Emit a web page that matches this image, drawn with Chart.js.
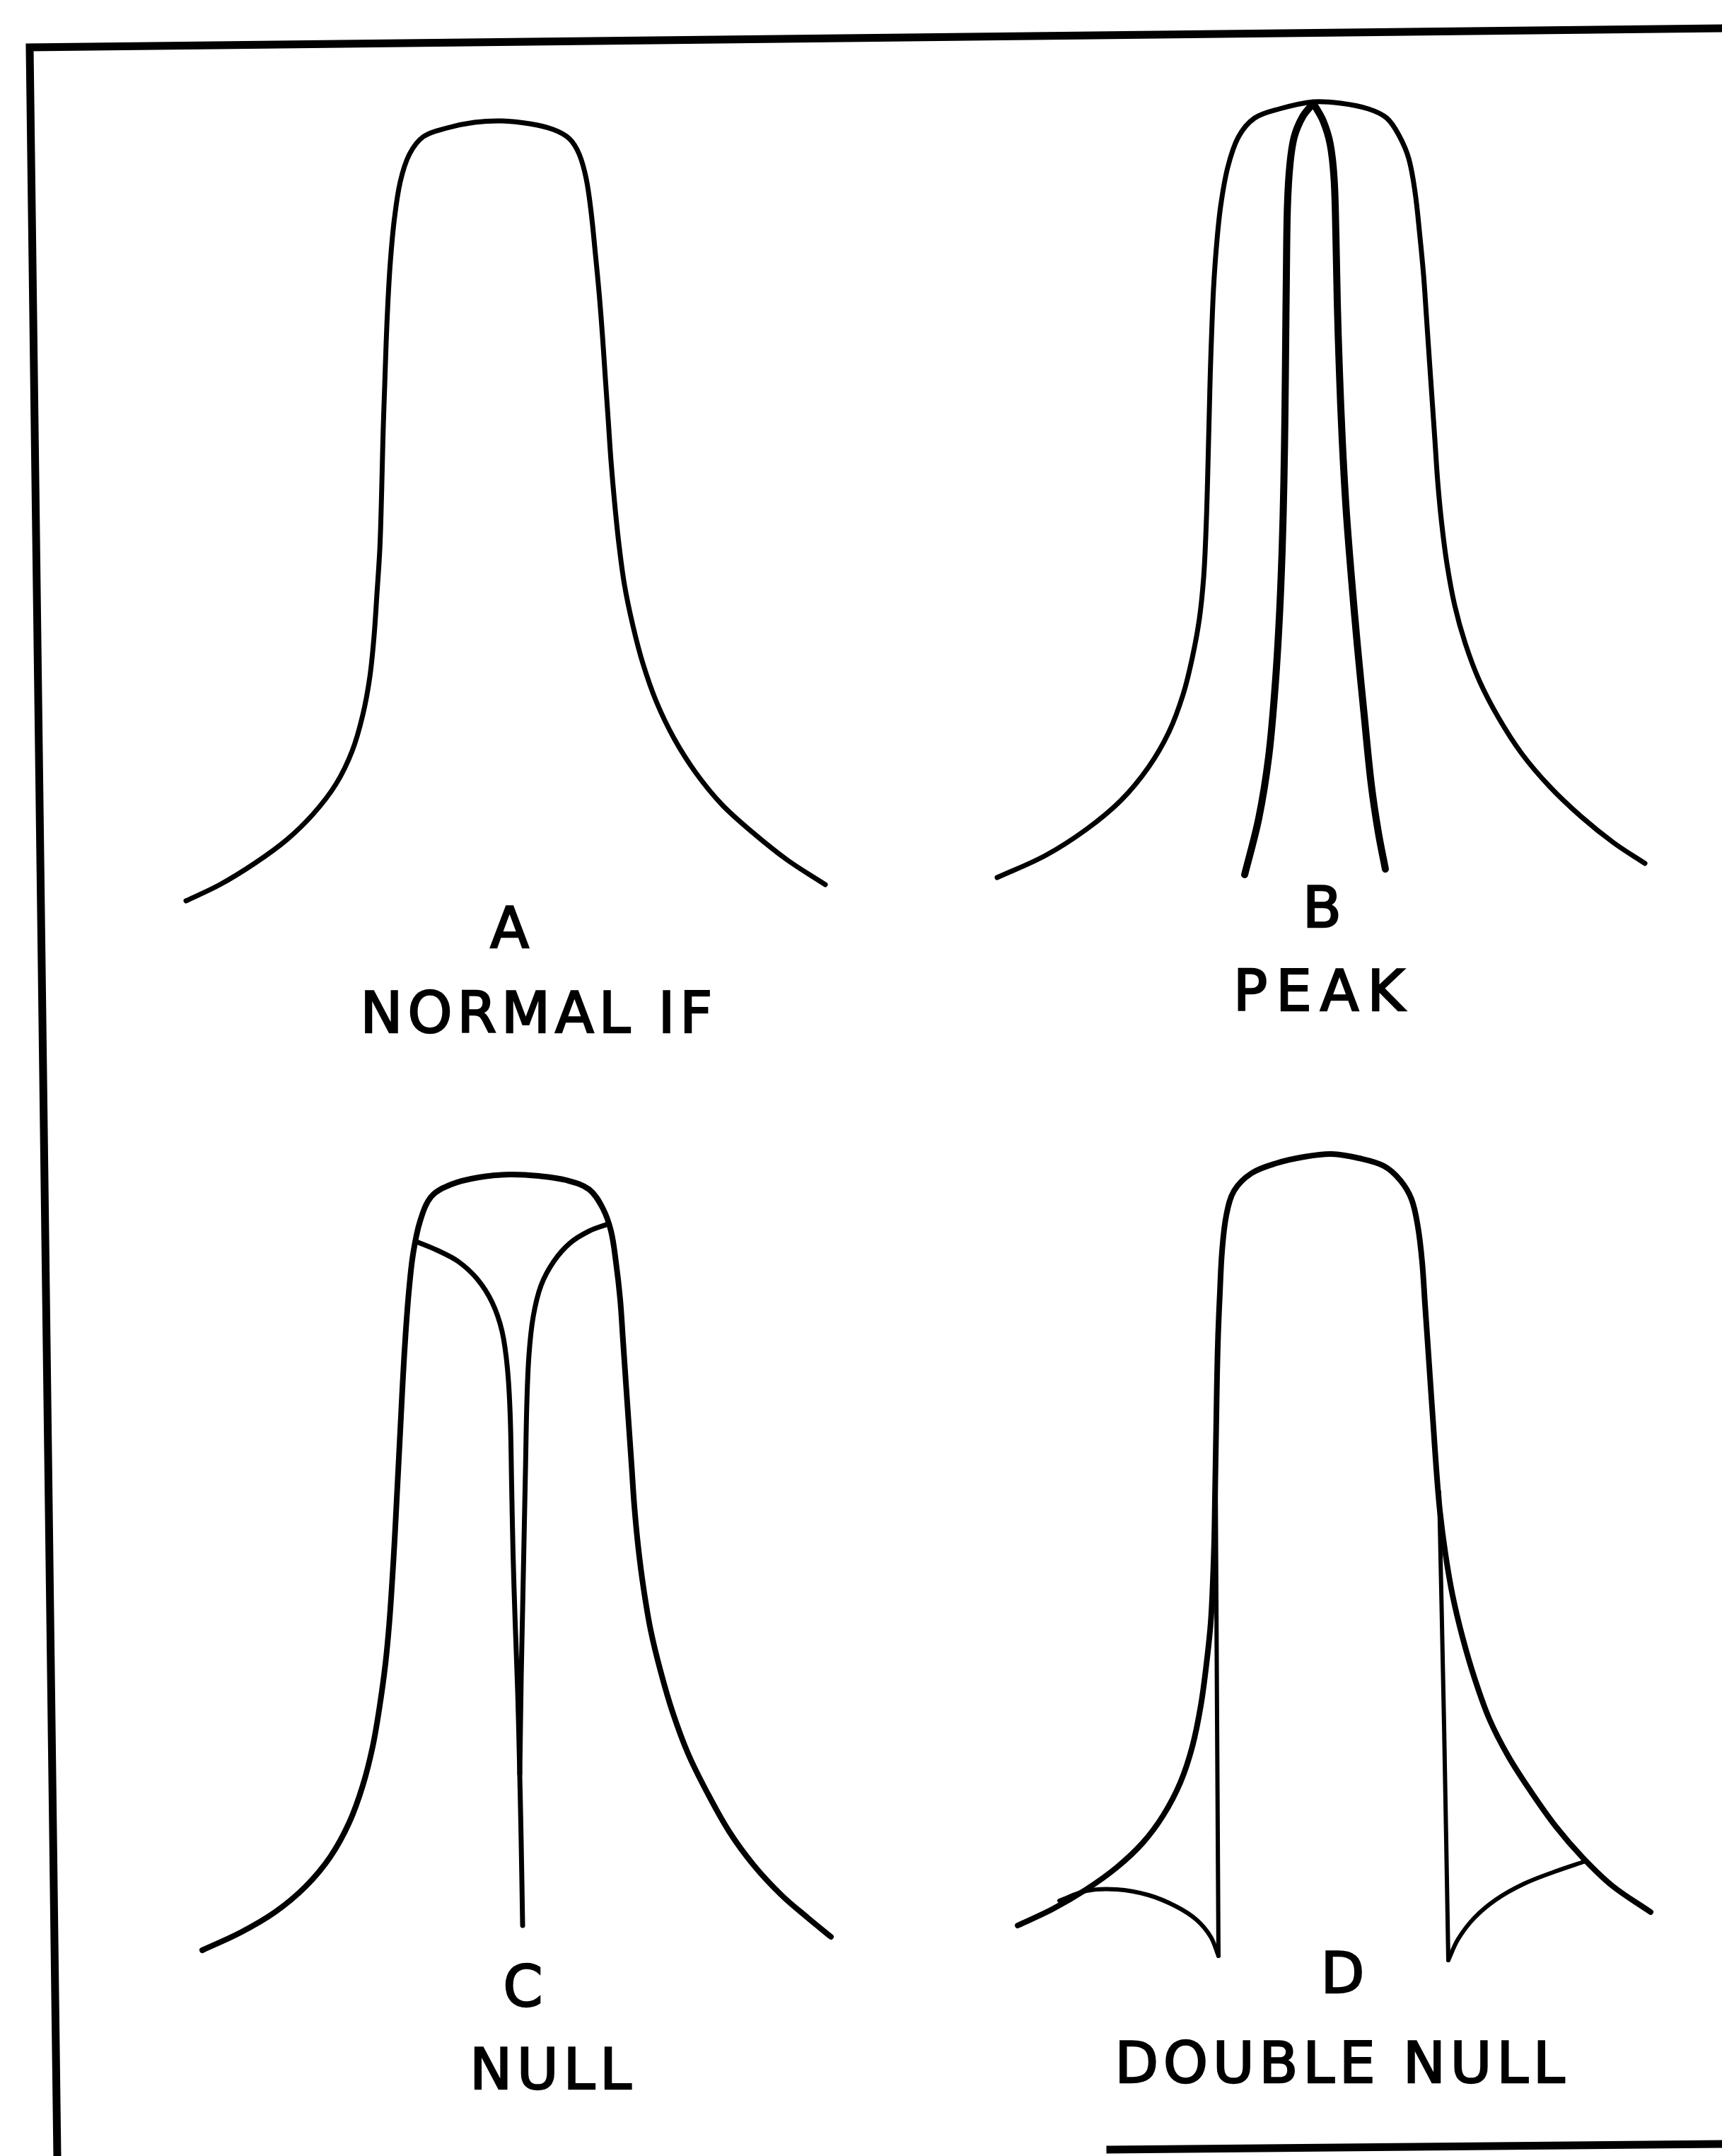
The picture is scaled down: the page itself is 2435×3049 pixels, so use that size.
<!DOCTYPE html>
<html>
<head>
<meta charset="utf-8">
<script src="https://cdn.jsdelivr.net/npm/chart.js@4.4.1/dist/chart.umd.min.js"></script>
<style>
  html, body { margin: 0; padding: 0; background: #fff; }
  body { position: relative; width: 2435px; height: 3049px; overflow: hidden; }
  canvas.panel, #frame { position: absolute; }
  .lbl {
    position: absolute;
    transform: translate(-50%, -50%);
    font-family: "DejaVu Sans", sans-serif;
    font-size: 80px;
    letter-spacing: 7px;
    -webkit-text-stroke: 2.5px #000;
    color: #000;
    white-space: nowrap;
    line-height: 1;
  }
</style>
</head>
<body>
<canvas id="frame" width="2435" height="3049" style="left:0;top:0"></canvas>
<canvas id="panelA" class="panel"></canvas>
<canvas id="panelB" class="panel"></canvas>
<canvas id="panelC" class="panel"></canvas>
<canvas id="panelD" class="panel"></canvas>

<div class="lbl" style="left:724px;top:1313px">A</div>
<div class="lbl" style="left:762px;top:1433px">NORMAL IF</div>
<div class="lbl" style="left:1873px;top:1284px">B</div>
<div class="lbl" style="left:1871px;top:1402px;letter-spacing:12px">PEAK</div>
<div class="lbl" style="left:743px;top:2810px">C</div>
<div class="lbl" style="left:782px;top:2927px">NULL</div>
<div class="lbl" style="left:1902px;top:2791px">D</div>
<div class="lbl" style="left:1898px;top:2918px">DOUBLE NULL</div>

<script>
// frequency offset (arbitrary units) and relative response

// A - normal IF
const normalX = [-43.7, -38.9, -34.0, -29.5, -25.7, -22.5, -20.2, -18.7, -17.7, -17.1, -16.7, -16.3, -16.1, -15.95, -15.8, -15.6, -15.4, -15.15, -14.8, -14.25, -13.4, -12.1, -10.1, -6.8, -2.9, 1.0, 4.9, 8.2, 10.5, 11.9, 12.9, 13.6, 14.2, 14.75, 15.2, 15.6, 16.0, 16.4, 16.9, 17.5, 18.3, 19.5, 20.9, 22.8, 25.3, 28.4, 32.1, 36.4, 41.3, 46.7];
const normalY = [2.6, 4.9, 7.9, 11.2, 14.9, 19.1, 23.8, 28.9, 34.3, 40.1, 46.0, 52.2, 58.0, 63.9, 69.7, 75.5, 81.4, 87.2, 93.0, 98.9, 104.3, 108.2, 110.7, 111.9, 112.7, 112.9, 112.5, 111.7, 110.4, 108.2, 104.7, 99.9, 94.0, 88.2, 82.4, 76.5, 70.7, 64.8, 59.0, 53.2, 47.3, 41.5, 36.2, 30.8, 25.6, 20.7, 16.2, 12.3, 8.4, 4.9];

// B - peak
const peakOuterX = [-45.0, -38.2, -32.4, -27.5, -23.6, -20.7, -18.7, -17.4, -16.4, -15.8, -15.5, -15.3, -15.15, -15.0, -14.85, -14.65, -14.4, -14.0, -13.4, -12.4, -10.9, -8.6, -5.1, -0.3, 3.6, 7.5, 10.1, 11.8, 13.2, 14.1, 14.75, 15.3, 15.7, 16.1, 16.5, 16.9, 17.3, 17.85, 18.6, 19.7, 21.2, 23.2, 25.9, 29.2, 33.1, 37.6, 42.2, 46.6];
const peakOuterY = [5.9, 9.0, 12.7, 16.8, 21.5, 26.5, 31.8, 37.0, 42.5, 48.3, 54.1, 60.0, 65.8, 71.7, 77.5, 83.3, 89.2, 95.0, 100.8, 106.3, 110.6, 113.3, 114.6, 115.6, 115.4, 114.6, 113.3, 110.9, 107.6, 102.8, 96.9, 91.1, 85.3, 79.4, 73.6, 67.8, 61.9, 56.1, 50.3, 44.4, 39.0, 33.7, 28.5, 23.4, 18.8, 14.5, 10.8, 7.9];
const peakLeftX = [-0.3, -1.8, -3.0, -3.6, -3.95, -4.1, -4.2, -4.3, -4.45, -4.7, -5.1, -5.7, -6.6, -8.0, -10.0];
const peakLeftY = [115.4, 113.5, 110.6, 106.7, 100.8, 91.1, 81.4, 71.7, 61.9, 52.2, 42.5, 32.8, 23.0, 14.3, 6.3];
const peakRightX = [-0.3, 1.1, 2.1, 2.65, 2.9, 3.1, 3.4, 3.8, 4.35, 5.1, 5.95, 6.9, 7.9, 8.9, 9.9];
const peakRightY = [115.4, 112.9, 109.6, 104.7, 96.9, 87.2, 77.5, 67.8, 58.0, 48.3, 38.6, 28.9, 19.1, 12.3, 7.1];

// C - null
const nullOuterX = [-44.4, -39.0, -34.1, -29.8, -26.3, -23.6, -21.7, -20.3, -19.3, -18.5, -17.95, -17.55, -17.2, -16.9, -16.6, -16.3, -16.0, -15.65, -15.2, -14.6, -13.6, -12.0, -9.2, -5.3, -1.0, 3.2, 7.1, 10.3, 12.2, 13.4, 14.1, 14.7, 15.1, 15.5, 15.9, 16.3, 16.7, 17.25, 18.0, 19.0, 20.4, 22.1, 24.3, 27.0, 30.1, 33.6, 37.5, 41.2, 44.5];
const nullOuterY = [4.2, 6.7, 9.6, 13.2, 17.4, 22.3, 27.5, 33.0, 38.8, 44.7, 50.5, 56.3, 62.2, 68.0, 73.8, 79.7, 85.5, 91.3, 97.2, 102.6, 107.3, 110.8, 112.5, 113.5, 113.9, 113.7, 113.1, 111.8, 109.2, 105.9, 101.5, 96.2, 90.4, 84.5, 78.7, 72.9, 67.0, 61.2, 55.4, 49.5, 43.7, 37.9, 32.0, 26.5, 21.0, 16.2, 12.0, 8.8, 6.1];
const nullLeftX = [-14.1, -11.2, -8.2, -5.5, -3.4, -2.0, -1.25, -0.85, -0.65, -0.45, -0.15, 0.2, 0.45, 0.7, 0.9];
const nullLeftY = [104.4, 103.2, 101.6, 99.1, 95.8, 91.7, 86.5, 79.7, 69.9, 60.2, 50.5, 40.8, 31.0, 19.4, 7.7];
const nullRightX = [13.0, 10.3, 7.6, 5.3, 3.5, 2.4, 1.8, 1.5, 1.3, 1.1, 0.9, 0.7, 0.5];
const nullRightY = [106.9, 105.9, 104.2, 101.6, 98.2, 93.8, 88.4, 81.6, 71.9, 62.2, 52.4, 42.7, 29.1];

// D - double null
const dblOuterX = [-44.1, -39.2, -34.4, -30.1, -26.4, -23.5, -21.1, -19.4, -18.2, -17.4, -16.8, -16.5, -16.3, -16.2, -16.1, -16.0, -15.9, -15.75, -15.5, -15.2, -14.6, -13.5, -11.0, -7.5, -3.6, 0.3, 4.2, 7.7, 10.0, 11.6, 12.5, 13.1, 13.5, 13.9, 14.3, 14.7, 15.1, 15.6, 16.4, 17.4, 18.8, 20.5, 22.6, 25.3, 28.5, 32.0, 35.8, 40.0, 45.4];
const dblOuterY = [7.7, 10.0, 12.8, 15.9, 19.4, 23.3, 27.9, 33.0, 38.8, 44.7, 50.5, 56.3, 62.2, 68.0, 73.8, 79.7, 85.5, 91.3, 97.2, 103.0, 108.1, 111.6, 114.1, 115.5, 116.4, 116.8, 116.2, 115.1, 113.1, 110.4, 106.5, 101.5, 95.6, 89.8, 83.9, 78.1, 72.3, 66.4, 60.2, 54.4, 48.5, 42.7, 36.9, 31.6, 26.6, 21.7, 17.3, 13.3, 9.6];
const dblLeftStemX = [-16.1, -15.9, -15.7];
const dblLeftStemY = [71.0, 37.0, 3.4];
const dblLeftArcX = [-15.7, -16.8, -18.8, -21.7, -25.6, -30.1, -34.4, -38.2];
const dblLeftArcY = [3.4, 6.1, 8.5, 10.4, 12.0, 12.8, 12.6, 11.2];
const dblRightStemX = [15.5, 16.2, 16.8];
const dblRightStemY = [69.0, 36.0, 2.8];
const dblRightArcX = [16.8, 18.2, 20.5, 23.6, 27.5, 31.8, 36.2];
const dblRightArcY = [2.8, 5.8, 8.8, 11.4, 13.6, 15.3, 16.8];

const pts = (xs, ys) => xs.map((x, i) => ({ x: x, y: ys[i] }));

function curve(xs, ys, width) {
  return {
    data: pts(xs, ys),
    borderColor: '#000',
    borderWidth: width,
    borderCapStyle: 'round',
    borderJoinStyle: 'round',
    pointRadius: 0,
    tension: 0.35,
    fill: false,
    clip: false
  };
}

function drawPanel(id, left, top, datasets) {
  const canvas = document.getElementById(id);
  canvas.width = 1000;
  canvas.height = 1200;
  canvas.style.left = left + 'px';
  canvas.style.top = top + 'px';
  return new Chart(canvas.getContext('2d'), {
    type: 'line',
    data: { datasets: datasets },
    options: {
      responsive: false,
      animation: false,
      events: [],
      layout: { padding: 0 },
      plugins: { legend: { display: false }, tooltip: { enabled: false } },
      scales: {
        x: { type: 'linear', min: -50, max: 50, display: false },
        y: { type: 'linear', min: 0, max: 120, display: false }
      }
    }
  });
}

drawPanel('panelA', 200, 100, [curve(normalX, normalY, 7)]);
drawPanel('panelB', 1360, 100, [
  curve(peakOuterX, peakOuterY, 7),
  curve(peakLeftX, peakLeftY, 10),
  curve(peakRightX, peakRightY, 10)
]);
drawPanel('panelC', 230, 1600, [
  curve(nullOuterX, nullOuterY, 8),
  curve(nullLeftX, nullLeftY, 7),
  curve(nullRightX, nullRightY, 7)
]);
drawPanel('panelD', 1380, 1600, [
  curve(dblOuterX, dblOuterY, 8),
  curve(dblLeftStemX, dblLeftStemY, 6),
  curve(dblLeftArcX, dblLeftArcY, 6),
  curve(dblRightStemX, dblRightStemY, 6),
  curve(dblRightArcX, dblRightArcY, 6)
]);

// border of the figure
const fctx = document.getElementById('frame').getContext('2d');
fctx.strokeStyle = '#000';
fctx.lineWidth = 11;
fctx.lineCap = 'square';
fctx.beginPath();
fctx.moveTo(2435, 40);
fctx.lineTo(42, 67);
fctx.lineTo(81, 3049);
fctx.moveTo(1570, 3040);
fctx.lineTo(2435, 3032);
fctx.stroke();
</script>
</body>
</html>
